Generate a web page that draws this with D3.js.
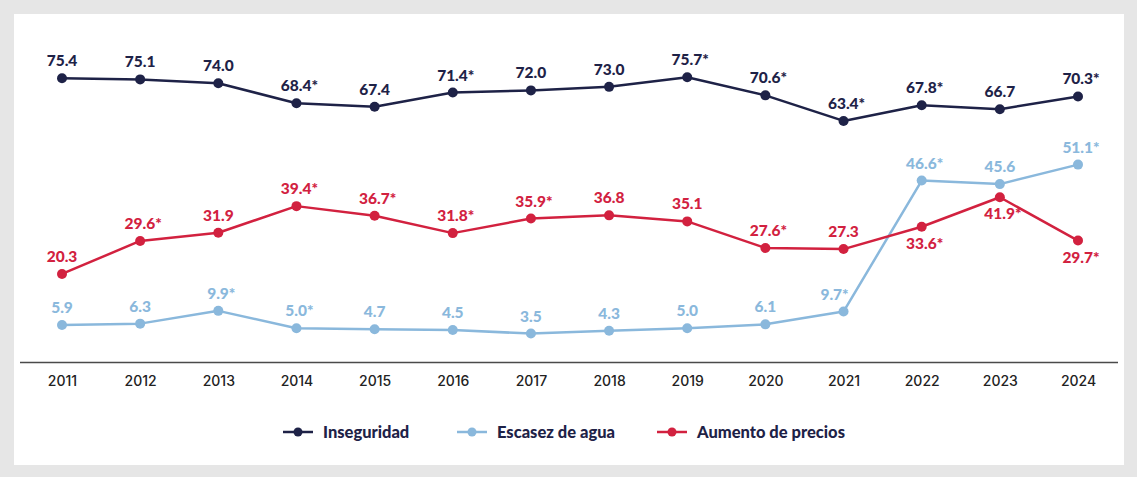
<!DOCTYPE html>
<html>
<head>
<meta charset="utf-8">
<script src="https://cdn.jsdelivr.net/npm/d3@7"></script>
<style>
  body { margin: 0; background: #e6e6e6; }
  svg { display: block; }
</style>
</head>
<body>
<div id="chart"></div>
<script>
// data
var years = ["2011","2012","2013","2014","2015","2016","2017","2018","2019","2020","2021","2022","2023","2024"];
var inseguridad = [75.4, 75.1, 74.0, 68.4, 67.4, 71.4, 72.0, 73.0, 75.7, 70.6, 63.4, 67.8, 66.7, 70.3];
var escasez     = [5.9, 6.3, 9.9, 5.0, 4.7, 4.5, 3.5, 4.3, 5.0, 6.1, 9.7, 46.6, 45.6, 51.1];
var precios     = [20.3, 29.6, 31.9, 39.4, 36.7, 31.8, 35.9, 36.8, 35.1, 27.6, 27.3, 33.6, 41.9, 29.7];
// asterisk marks (significant change)
var inseguridadStar = [0,0,0,1,0,1,0,0,1,1,1,1,0,1];
var escasezStar     = [0,0,1,1,0,0,0,0,0,0,1,1,0,1];
var preciosStar     = [0,1,0,1,1,1,1,0,0,1,0,1,1,1];
// label below the point instead of above
var preciosBelow    = [0,0,0,0,0,0,0,0,0,0,0,1,1,1];
var seriesNames = ["Inseguridad", "Escasez de agua", "Aumento de precios"];
var colors = ["#1e2247", "#8ab8dc", "#d2213f"];

var width = 1137,
	height = 477;

var svg = d3.select("#chart").append("svg")
	.attr("width", width)
	.attr("height", height);

svg.append("rect")
	.attr("x", 14).attr("y", 14)
	.attr("width", 1110).attr("height", 451)
	.attr("fill", "#fff");

var x = d3.scalePoint()
	.domain(years)
	.range([62, 1078]);

var y = d3.scaleLinear()
	.domain([0, 100])
	.range([346, -9]);

// axis
svg.append("line")
	.attr("x1", 20).attr("x2", 1118)
	.attr("y1", 362.5).attr("y2", 362.5)
	.attr("stroke", "#4a4a4a")
	.attr("stroke-width", 1.5);

var xAxis = svg.append("g")
	.attr("transform", "translate(0,362)")
	.call(d3.axisBottom(x).tickSize(0).tickPadding(14));
xAxis.select(".domain").remove();
xAxis.selectAll("text")
	.attr("font-family", "Inter, 'Noto Sans', sans-serif")
	.attr("font-size", 14)
	.attr("font-weight", 500)
	.attr("fill", "#222");

var series = [
	{name: seriesNames[0], values: inseguridad, star: inseguridadStar, below: null, color: colors[0]},
	{name: seriesNames[1], values: escasez, star: escasezStar, below: null, color: colors[1]},
	{name: seriesNames[2], values: precios, star: preciosStar, below: preciosBelow, color: colors[2]}
];

var line = d3.line()
	.x(function(d, i) { return x(years[i]); })
	.y(function(d) { return y(d); });

series.forEach(function(s) {
	var g = svg.append("g");

	g.append("path")
		.datum(s.values)
		.attr("d", line)
		.attr("fill", "none")
		.attr("stroke", s.color)
		.attr("stroke-width", 2.5)
		.attr("stroke-linejoin", "round");

	g.selectAll("circle")
		.data(s.values)
		.enter().append("circle")
		.attr("cx", function(d, i) { return x(years[i]); })
		.attr("cy", function(d) { return y(d); })
		.attr("r", 5)
		.attr("fill", s.color);

	g.selectAll("text")
		.data(s.values)
		.enter().append("text")
		.attr("x", function(d, i) {
			var px = x(years[i]) + (s.star[i] ? 3 : 0);
			// steep segment after this point, nudge label left
			if (i + 1 < s.values.length && s.values[i + 1] - d > 20) px -= 12;
			return px;
		})
		.attr("y", function(d, i) {
			if (s.below && s.below[i]) return y(d) + 22;
			return y(d) - 12;
		})
		.attr("text-anchor", "middle")
		.attr("font-family", "Lato, sans-serif")
		.attr("font-size", 15.5)
		.attr("font-weight", 900)
		.attr("fill", s.color)
		.text(function(d, i) { return d.toFixed(1) + (s.star[i] ? "*" : ""); });
});

// legend
var legendX = [283, 457, 657];
var legend = svg.selectAll(".legend")
	.data(series)
	.enter().append("g")
	.attr("class", "legend")
	.attr("transform", function(d, i) { return "translate(" + legendX[i] + ",432)"; });

legend.append("line")
	.attr("x1", 0).attr("x2", 30)
	.attr("stroke", function(d) { return d.color; })
	.attr("stroke-width", 2.5);
legend.append("circle")
	.attr("cx", 15).attr("r", 4.5)
	.attr("fill", function(d) { return d.color; });
legend.append("text")
	.attr("x", 40)
	.attr("dy", "0.35em")
	.attr("font-family", "Lato, sans-serif")
	.attr("font-size", 16.5)
	.attr("font-weight", 900)
	.attr("fill", "#1e2247")
	.text(function(d) { return d.name; });
</script>
</body>
</html>
